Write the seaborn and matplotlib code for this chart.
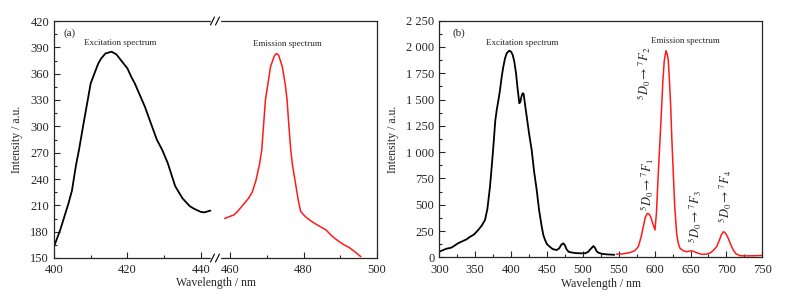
import numpy as np
import pandas as pd
import matplotlib
matplotlib.use("Agg")
import matplotlib.pyplot as plt
from matplotlib.lines import Line2D
from matplotlib.ticker import MultipleLocator, FuncFormatter, FixedLocator
import seaborn as sns

# ---------------- data ----------------
# Panel (a) excitation (black)
a_exc_wl = [400, 401.7, 404, 404.9, 406, 406.8, 408, 410, 412, 412.8, 414, 415.7, 417,
            418.3, 420, 421.1, 422, 424.8, 426, 428, 429.5, 431, 433, 435, 437, 438.2,
            440, 441, 442.6]
a_exc_int = [163, 182, 213, 227, 256, 273, 302, 349, 371, 377, 383, 385, 382,
             375, 366, 356, 349, 322, 308, 285, 273, 258, 232, 218, 209, 206,
             202.5, 202, 204]
# Panel (a) emission (red)
a_em_wl = [458.5, 460, 461, 462, 463, 464, 465, 466, 467, 468, 468.6, 469.6, 471, 472,
           472.6, 473.2, 474.2, 475, 475.5, 476, 476.5, 477, 477.8, 478.5, 479.2, 480.5,
           482.4, 484, 486.1, 488, 489.7, 491, 492.4, 494, 495.6]
a_em_int = [195, 197.5, 199, 203, 208, 213, 218, 225, 238, 257, 273, 330, 368, 380,
            383, 381, 368, 348, 330, 300, 273, 255, 235, 217, 203, 197,
            191, 187, 182, 174, 168.6, 165, 162, 157, 151.5]

# Panel (b) excitation (black)
b_exc_wl = [300, 305, 310, 316, 320, 326, 332, 338, 343, 348, 354, 359, 363.7, 367,
            370.6, 373, 375.3, 378, 380, 382.5, 384.6, 387, 389.2, 391.5, 393.9, 397.5,
            400, 402.3, 404.5, 406.9, 409, 411.5, 413, 414.5, 416, 417.5, 419.5, 421.8,
            425, 428.7, 432, 435.7, 439, 442.7, 445, 447.3, 450, 454, 458, 463.5, 467,
            470, 472.8, 475, 477, 480, 485, 490, 496, 503, 507, 511, 514.6, 517, 519,
            521.5, 527, 533, 538, 543.8]
b_exc_int = [53, 68, 82, 90, 105, 133, 152, 171, 196, 215, 258, 300, 355, 460,
             671, 860, 1052, 1300, 1401, 1500, 1591, 1720, 1813, 1890, 1940, 1965,
             1955, 1924, 1860, 1750, 1610, 1465, 1480, 1530, 1560, 1555, 1450, 1338,
             1180, 1021, 820, 640, 450, 291, 210, 165, 125, 100, 78, 69, 85,
             120, 133, 115, 80, 53, 45, 40, 38, 38, 50, 80, 107, 90, 60,
             44, 32, 28, 26, 24]
# Panel (b) emission (red)
b_em_wl = [547, 555, 565.7, 572, 577.3, 581, 584.2, 587, 589.8, 592, 594.5, 597, 600.5,
           602.5, 605.1, 607.5, 609.8, 611.5, 613.5, 615.8, 617.5, 619, 620.5, 622.4, 624,
           626, 628, 630.7, 633, 635.3, 640, 644.7, 649, 653, 658, 665.5, 672, 677, 681,
           686.4, 690, 693, 695.7, 698, 700, 702.6, 706, 709.6, 713, 719, 730, 740, 750]
b_em_int = [30, 32, 45, 62, 101, 190, 291, 380, 418, 412, 386, 330, 260,
            420, 799, 1120, 1432, 1680, 1876, 1965, 1935, 1876, 1700, 1432, 1120,
            799, 480, 228, 130, 86, 62, 53, 60, 60, 45, 28, 30, 40, 60,
            101, 160, 215, 243, 235, 215, 180, 120, 69, 35, 15, 14, 15, 18]

a_yticks = [150, 180, 210, 240, 270, 300, 330, 360, 390, 420]
a_xticks_left = [400, 420, 440]
a_xticks_right = [460, 480, 500]
b_yticks = [0, 250, 500, 750, 1000, 1250, 1500, 1750, 2000, 2250]
b_xticks = [300, 350, 400, 450, 500, 550, 600, 650, 700, 750]

transitions = [r'$^{5}D_{0}\rightarrow{}^{7}F_{1}$', r'$^{5}D_{0}\rightarrow{}^{7}F_{2}$',
               r'$^{5}D_{0}\rightarrow{}^{7}F_{3}$', r'$^{5}D_{0}\rightarrow{}^{7}F_{4}$']
trans_wl = [589.5, 586, 656, 698]
trans_int = [440, 1500, 135, 330]

# ---------------- style ----------------
sns.set_style("ticks")
plt.rcParams['font.family'] = ['Liberation Serif', 'DejaVu Serif']
plt.rcParams['mathtext.fontset'] = 'stix'
plt.rcParams['axes.linewidth'] = 0.9

W, H = 790, 300
fig = plt.figure(figsize=(W / 100, H / 100), dpi=100)


def fx(px):
    return px / W


def fy(py):
    return 1 - py / H


TICK_FS = 9
LBL_FS = 8.5


def style_ticks(ax):
    ax.tick_params(which='both', direction='in', labelsize=TICK_FS, top=False, right=False)
    ax.tick_params(which='major', length=4, width=0.8)
    ax.tick_params(which='minor', length=2.2, width=0.8)
    ax.tick_params(axis='x', which='both', pad=4.5)
    ax.tick_params(axis='y', which='both', pad=3.5)


# ---------------- panel (a) broken axis ----------------
a_left, a_right, a_top, a_bot = 54, 377, 21, 258
brk = (a_left + a_right) / 2
axL = fig.add_axes([fx(a_left), fy(a_bot), fx(brk - a_left), (a_bot - a_top) / H])
axR = fig.add_axes([fx(brk), fy(a_bot), fx(a_right - brk), (a_bot - a_top) / H])

sns.lineplot(x=a_exc_wl, y=a_exc_int, ax=axL, color='black', linewidth=1.3, estimator=None)
sns.lineplot(x=a_em_wl, y=a_em_int, ax=axR, color='#ff1a1a', linewidth=1.1, estimator=None)

axL.set_xlim(400, 444)
axR.set_xlim(456, 500)
for ax in (axL, axR):
    ax.set_ylim(150, 420)
    ax.set_xlabel('')
    ax.set_ylabel('')
    style_ticks(ax)
axL.xaxis.set_major_locator(FixedLocator(a_xticks_left))
axL.xaxis.set_minor_locator(FixedLocator([410, 430]))
axR.xaxis.set_major_locator(FixedLocator(a_xticks_right))
axR.xaxis.set_minor_locator(FixedLocator([470, 490]))
axL.yaxis.set_major_locator(FixedLocator(a_yticks))
axL.yaxis.set_minor_locator(MultipleLocator(15))
axL.spines['right'].set_visible(False)
axR.spines['left'].set_visible(False)
axR.tick_params(axis='y', which='both', left=False, labelleft=False)
axL.set_ylabel('Intensity / a.u.', fontsize=LBL_FS, labelpad=5)
fig.text(fx((a_left + a_right) / 2), fy(283), 'Wavelength / nm', ha='center', va='center',
         fontsize=LBL_FS)

# break marks
for yy in (a_top, a_bot):
    fig.add_artist(Line2D([fx(brk - 4), fx(brk + 4)], [fy(yy), fy(yy)], color='white',
                          lw=2.5, transform=fig.transFigure))
    for dx in (-3, 2):
        fig.add_artist(Line2D([fx(brk + dx - 2), fx(brk + dx + 2)], [fy(yy + 4), fy(yy - 4)],
                              color='black', lw=0.8, transform=fig.transFigure))

fig.text(fx(64), fy(33), '(a)', fontsize=8, va='center', ha='left')
fig.text(fx(120), fy(43), 'Excitation spectrum', fontsize=6.5, va='center', ha='center')
fig.text(fx(287), fy(44), 'Emission spectrum', fontsize=6.5, va='center', ha='center')

# ---------------- panel (b) ----------------
b_left, b_right, b_top, b_bot = 439.3, 762.3, 20.7, 257.3
axb = fig.add_axes([fx(b_left), fy(b_bot), fx(b_right - b_left), (b_bot - b_top) / H])
sns.lineplot(x=b_exc_wl, y=b_exc_int, ax=axb, color='black', linewidth=1.3, estimator=None)
sns.lineplot(x=b_em_wl, y=b_em_int, ax=axb, color='#ff1a1a', linewidth=1.1, estimator=None)
axb.set_xlim(300, 750)
axb.set_ylim(0, 2250)
axb.xaxis.set_major_locator(FixedLocator(b_xticks))
axb.xaxis.set_minor_locator(MultipleLocator(25))
axb.yaxis.set_major_locator(FixedLocator(b_yticks))
axb.yaxis.set_minor_locator(MultipleLocator(125))
axb.yaxis.set_major_formatter(FuncFormatter(lambda v, p: f"{int(v):,}".replace(',', ' ')))
style_ticks(axb)
axb.set_xlabel('Wavelength / nm', fontsize=LBL_FS, labelpad=2)
axb.set_ylabel('Intensity / a.u.', fontsize=LBL_FS, labelpad=5)

axb.text(318, 2130, '(b)', fontsize=8, va='center', ha='left')
axb.text(414.8, 2038, 'Excitation spectrum', fontsize=6.5, va='center', ha='center')
axb.text(643.3, 2057, 'Emission spectrum', fontsize=6.5, va='center', ha='center')
for t, wl, iv in zip(transitions, trans_wl, trans_int):
    axb.text(wl, iv, t, rotation=90, ha='center', va='bottom', fontsize=9)

fig.savefig('out.png', dpi=100)
